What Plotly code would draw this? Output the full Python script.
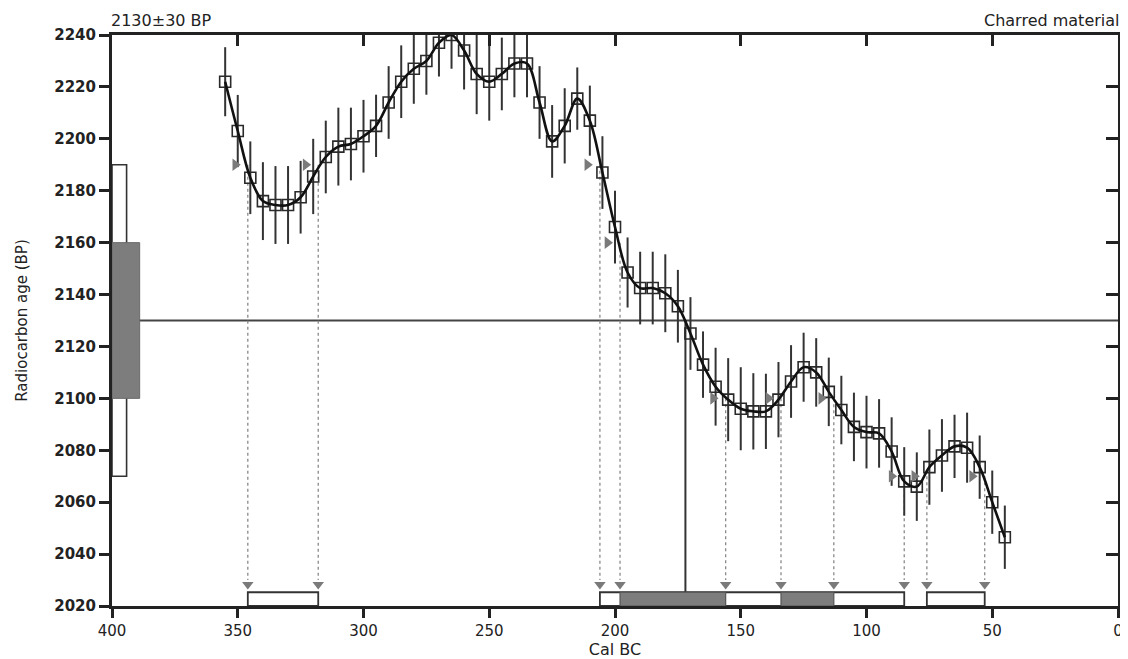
import plotly.graph_objects as go

# ---------------- data ----------------
sample_age = 2130
sample_err = 30
sample_label = "Charred material"

cal_years = list(range(355, 40, -5))  # Cal BC of calibration curve points
cal_bp = [2222, 2203, 2185, 2176, 2174.5, 2174.5, 2177.5, 2185.5, 2193, 2197,
          2198, 2201, 2205, 2214, 2222, 2227, 2230, 2237, 2240, 2234,
          2225, 2222, 2225, 2229, 2229, 2214, 2199, 2205, 2215.5, 2207,
          2187, 2166, 2148.5, 2142.5, 2142.5, 2140.5, 2135.5, 2125, 2113, 2104.5,
          2099.5, 2096, 2095, 2095, 2099.5, 2106.5, 2112, 2110, 2102.5, 2095.5,
          2089, 2087, 2086.5, 2079.5, 2068, 2066, 2073.5, 2078, 2081.5, 2081,
          2073.5, 2060, 2046.5]
cal_sigma = [13.3, 13.9, 14, 15, 15, 15, 14, 14.5, 14, 15,
             14, 14, 12, 14, 14, 13.5, 13, 13, 13, 15,
             15.5, 15, 14, 13, 13, 14, 14, 14.5, 12, 13.5,
             14, 14, 13.5, 14, 14, 15, 14, 14, 12.8, 15,
             16, 16, 14.7, 14.5, 14.5, 14, 13.3, 13.2, 13.2, 13.2,
             13.2, 14, 13.2, 13.2, 13.2, 13.2, 14.5, 14, 12.2, 13.5,
             12.2, 12.2, 12.2]

# intercepts of sample age +-1/2 sigma with the curve (Cal BC) and their BP level
intercept_years = [346, 318, 206, 198, 156, 134, 113, 85, 76, 53]
intercept_levels = [2190, 2190, 2190, 2160, 2100, 2100, 2100, 2070, 2070, 2070]

# calibrated ranges (Cal BC): two sigma (open) and one sigma (filled)
range_2s = [(346, 318), (206, 85), (76, 53)]
range_1s = [(198, 156), (134, 113)]
median_cal = 172

x_ticks = [400, 350, 300, 250, 200, 150, 100, 50, 0]
y_ticks = list(range(2020, 2241, 20))

assert len(cal_years) == len(cal_bp) == len(cal_sigma)

# ---------------- figure ----------------
DARK = "#2a2a2a"
GRAY = "#7a7a7a"
FONT = "DejaVu Sans"

fig = go.Figure()

# sample age horizontal line
fig.add_trace(go.Scatter(x=[400, 0], y=[sample_age, sample_age], mode="lines",
                         line=dict(color="#444", width=2), hoverinfo="skip"))

# median vertical line
fig.add_trace(go.Scatter(x=[median_cal, median_cal], y=[2020, sample_age], mode="lines",
                         line=dict(color="#333", width=2), hoverinfo="skip"))

# dotted drop lines from intercepts
dx, dy = [], []
for yr, lv in zip(intercept_years, intercept_levels):
    dx += [yr, yr, None]
    dy += [lv, 2030, None]
fig.add_trace(go.Scatter(x=dx, y=dy, mode="lines",
                         line=dict(color="#8a8a8a", width=1.3, dash="dot"), hoverinfo="skip"))

# error bars + squares
fig.add_trace(go.Scatter(x=cal_years, y=cal_bp, mode="markers",
                         marker=dict(symbol="square-open", size=11, color=DARK,
                                     line=dict(width=1.6, color=DARK)),
                         error_y=dict(type="data", array=cal_sigma, visible=True,
                                      thickness=2, width=0, color="#333"),
                         cliponaxis=True, hoverinfo="skip"))

# calibration curve
fig.add_trace(go.Scatter(x=cal_years, y=cal_bp, mode="lines",
                         line=dict(color="#111", width=2.6, shape="spline", smoothing=1.0),
                         hoverinfo="skip"))

# right-pointing markers at intercepts
fig.add_trace(go.Scatter(x=[y + 5 for y in intercept_years], y=intercept_levels, mode="markers",
                         marker=dict(symbol="triangle-right", size=11, color=GRAY),
                         cliponaxis=False, hoverinfo="skip"))

# down-pointing markers at bottom
fig.add_trace(go.Scatter(x=intercept_years, y=[2028.3] * len(intercept_years), mode="markers",
                         marker=dict(symbol="triangle-down", size=10, color=GRAY),
                         cliponaxis=False, hoverinfo="skip"))

# dummy trace for mirrored axes
fig.add_trace(go.Scatter(x=[400, 0], y=[2020, 2240], xaxis="x2", yaxis="y2",
                         mode="markers", marker=dict(opacity=0), hoverinfo="skip"))

shapes = []
# calibrated ranges boxes at bottom
for a, b in range_2s:
    shapes.append(dict(type="rect", xref="x", yref="y", x0=a, x1=b, y0=2020, y1=2025.3,
                       line=dict(color="#333", width=1.8), fillcolor="white", layer="above"))
for a, b in range_1s:
    shapes.append(dict(type="rect", xref="x", yref="y", x0=a, x1=b, y0=2020, y1=2025.3,
                       line=dict(color="#555", width=1.2), fillcolor="#7d7d7d", layer="above"))

# sample age boxes at the left
shapes.append(dict(type="rect", xref="x", yref="y", x0=400, x1=394.2,
                   y0=sample_age - 2 * sample_err, y1=sample_age + 2 * sample_err,
                   line=dict(color="#333", width=1.6), fillcolor="white", layer="above"))
shapes.append(dict(type="rect", xref="x", yref="y", x0=400, x1=389,
                   y0=sample_age - sample_err, y1=sample_age + sample_err,
                   line=dict(color="#6a6a6a", width=1), fillcolor="#7d7d7d", layer="above"))

AX = dict(showline=True, linewidth=3, linecolor="#222", showgrid=False, zeroline=False,
          tickwidth=3, tickcolor="#222", automargin=False)

fig.update_layout(
    width=1120, height=651,
    margin=dict(l=104, r=10, t=27, b=53, autoexpand=False),
    paper_bgcolor="white", plot_bgcolor="white",
    showlegend=False,
    shapes=shapes,
    font=dict(family=FONT, color="#222"),
    xaxis=dict(range=[400, 0], tickvals=x_ticks, ticktext=[str(v) for v in x_ticks],
               ticks="outside", ticklen=9,
               tickfont=dict(size=15, family=FONT, color="#222"),
               title=dict(text="Cal BC", font=dict(size=16, family=FONT, color="#222"), standoff=4),
               **AX),
    yaxis=dict(range=[2020, 2240], tickvals=y_ticks,
               ticks="outside", ticklen=10,
               tickfont=dict(size=15, family=FONT, color="#222", weight="bold"),
               title=dict(text="Radiocarbon age (BP)", font=dict(size=15, family=FONT, color="#222"),
                          standoff=24),
               **AX),
    xaxis2=dict(range=[400, 0], overlaying="x", side="top", tickvals=x_ticks[1:-1],
                ticks="inside", ticklen=11, showticklabels=False, **AX),
    yaxis2=dict(range=[2020, 2240], overlaying="y", side="right", tickvals=y_ticks[1:-1],
                ticks="inside", ticklen=12, showticklabels=False, **AX),
    annotations=[
        dict(text=f"{sample_age}±{sample_err} BP", xref="paper", yref="paper", x=0, y=1,
             xanchor="left", yanchor="bottom", yshift=3, xshift=-3, showarrow=False,
             font=dict(size=16, family=FONT, color="#222")),
        dict(text=sample_label, xref="paper", yref="paper", x=1, y=1,
             xanchor="right", yanchor="bottom", yshift=3, xshift=4, showarrow=False,
             font=dict(size=16, family=FONT, color="#222")),
    ],
)

fig.write_html("out.html")
